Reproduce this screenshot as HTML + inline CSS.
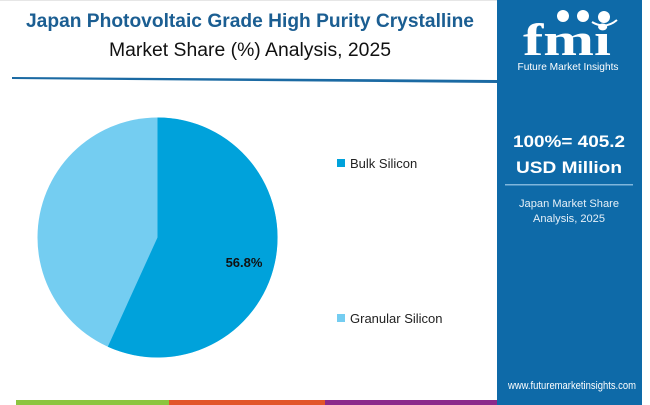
<!DOCTYPE html>
<html><head><meta charset="utf-8"><style>
html,body{margin:0;padding:0;background:#fff;}
svg{display:block;font-family:"Liberation Sans",sans-serif;}
</style></head><body>
<svg width="650" height="405" viewBox="0 0 650 405">
<rect width="650" height="405" fill="#fff"/>
<rect x="0" y="0" width="650" height="1" fill="#e6e6e6"/>
<text x="250" y="27" text-anchor="middle" font-size="19" font-weight="bold" fill="#1b5e92" textLength="448" lengthAdjust="spacingAndGlyphs">Japan Photovoltaic Grade High Purity Crystalline</text>
<text x="250" y="56" text-anchor="middle" font-size="19" fill="#111" textLength="282" lengthAdjust="spacingAndGlyphs">Market Share (%) Analysis, 2025</text>
<polygon points="12,77 497,80 497,83 12,79" fill="#1b6aa3"/>
<circle cx="157.5" cy="237.5" r="120" fill="#74cdf1"/>
<path d="M157.5,237.5 L157.5,117.5 A120,120 0 1 1 107.8,346.7 Z" fill="#00a2db"/>
<text x="244" y="267" text-anchor="middle" font-size="13" font-weight="bold" fill="#111">56.8%</text>
<rect x="337" y="159" width="8" height="8" fill="#00a2db"/>
<text x="350" y="168" font-size="13" fill="#222">Bulk Silicon</text>
<rect x="337" y="314" width="8" height="8" fill="#74cdf1"/>
<text x="350" y="323" font-size="13" fill="#222">Granular Silicon</text>
<rect x="16" y="400" width="153" height="5" fill="#8cc540"/>
<rect x="169" y="400" width="156" height="5" fill="#e2562a"/>
<rect x="325" y="400" width="175" height="5" fill="#8b2a8b"/>
<rect x="497" y="0" width="145" height="405" fill="#0e6aa8"/>
<rect x="642" y="0" width="8" height="405" fill="#fff"/>
<g fill="#fff">
<text x="567" y="55" text-anchor="middle" font-size="46" font-weight="bold" font-family="Liberation Serif,serif" textLength="88" lengthAdjust="spacingAndGlyphs">fmi</text>
<circle cx="563" cy="16" r="6"/><circle cx="583" cy="16" r="6"/><circle cx="604" cy="17" r="6"/>
</g>
<path d="M592,22 Q605,30 617,20" stroke="#fff" stroke-width="2" fill="none"/>
<text x="568" y="70" text-anchor="middle" font-size="10.5" fill="#fff" textLength="101" lengthAdjust="spacingAndGlyphs">Future Market Insights</text>
<text x="569" y="147" text-anchor="middle" font-size="17" font-weight="bold" fill="#fff" textLength="112" lengthAdjust="spacingAndGlyphs">100%= 405.2</text>
<text x="569" y="173" text-anchor="middle" font-size="17" font-weight="bold" fill="#fff" textLength="106" lengthAdjust="spacingAndGlyphs">USD Million</text>
<rect x="505" y="184" width="128" height="1.5" fill="#7fb6dc"/>
<text x="569" y="207" text-anchor="middle" font-size="11" fill="#e6f0f8" textLength="100" lengthAdjust="spacingAndGlyphs">Japan Market Share</text>
<text x="569" y="222" text-anchor="middle" font-size="11" fill="#e6f0f8" textLength="72" lengthAdjust="spacingAndGlyphs">Analysis, 2025</text>
<text x="572" y="389" text-anchor="middle" font-size="11" fill="#fff" textLength="128" lengthAdjust="spacingAndGlyphs">www.futuremarketinsights.com</text>
</svg>
</body></html>
